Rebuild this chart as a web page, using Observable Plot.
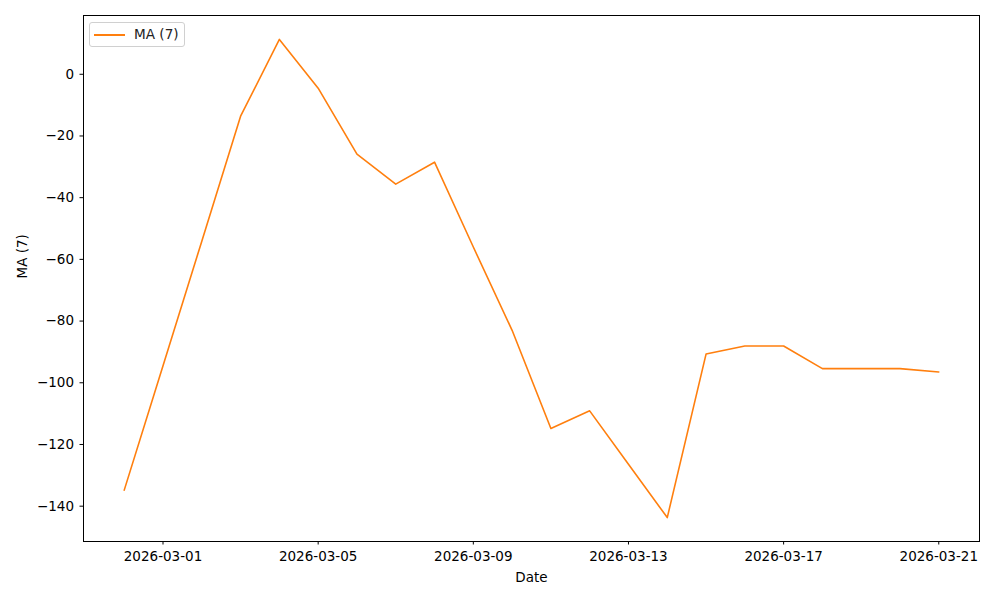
<!DOCTYPE html>
<html>
<head>
<meta charset="utf-8">
<script src="https://cdn.jsdelivr.net/npm/d3@7"></script>
<script src="https://cdn.jsdelivr.net/npm/@observablehq/plot@0.6"></script>
<style>
  html, body { margin: 0; padding: 0; background: #fff; }
  #wrap { position: relative; width: 1000px; height: 600px; font-family: "DejaVu Sans", sans-serif; }
  #legend { position: absolute; left: 89px; top: 22px; width: 96px; height: 25px; box-sizing: border-box;
    border: 1px solid #d0d0d0; border-radius: 3px; background: rgba(255,255,255,0.8); }
  #legend .sw { position: absolute; left: 4px; top: 10.5px; width: 31px; height: 2px; background: #ff7f0e; }
  #legend .lb { position: absolute; left: 44px; top: 3px; font-size: 13.6px; color: #222; line-height: 16px; }
</style>
</head>
<body>
<div id="wrap"><div id="legend"><div class="sw"></div><div class="lb">MA (7)</div></div></div>
<script>
const dates = ["2026-02-28","2026-03-01","2026-03-02","2026-03-03","2026-03-04","2026-03-05","2026-03-06","2026-03-07","2026-03-08","2026-03-09","2026-03-10","2026-03-11","2026-03-12","2026-03-13","2026-03-14","2026-03-15","2026-03-16","2026-03-17","2026-03-18","2026-03-19","2026-03-20","2026-03-21"];
const ma7 = [-134.8,-94.5,-54.1,-13.6,11.3,-4.5,-25.9,-35.6,-28.5,-56.0,-83.0,-114.8,-109.1,-126.4,-143.7,-90.7,-88.1,-88.1,-95.4,-95.4,-95.4,-96.5];
const xTickLabels = ["2026-03-01","2026-03-05","2026-03-09","2026-03-13","2026-03-17","2026-03-21"];
const yTicks = [-140,-120,-100,-80,-60,-40,-20,0];

const parse = d3.utcParse("%Y-%m-%d");
const data = dates.map((d, i) => ({date: parse(d), value: ma7[i]}));
const x0 = parse(dates[0]), x1 = parse(dates[dates.length - 1]);
const pad = (x1 - x0) * 0.05;
const ymin = d3.min(ma7), ymax = d3.max(ma7), ypad = (ymax - ymin) * 0.05;

const chart = Plot.plot({
  width: 1000,
  height: 600,
  marginLeft: 83,
  marginRight: 21,
  marginTop: 15,
  marginBottom: 59,
  style: {fontFamily: "DejaVu Sans, sans-serif", fontSize: "13.5px", color: "#000", background: "#fff"},
  x: {type: "utc", domain: [new Date(+x0 - pad), new Date(+x1 + pad)]},
  y: {domain: [ymin - ypad, ymax + ypad]},
  marks: [
    Plot.axisX({ticks: xTickLabels.map(parse), tickFormat: d3.utcFormat("%Y-%m-%d"), tickSize: 3.5, tickPadding: 6, label: null, fontSize: 13.5, stroke: "#000"}),
    Plot.axisY({ticks: yTicks, tickSize: 3.5, tickPadding: 6, label: null, fontSize: 13.5, stroke: "#000"}),
    Plot.line(data, {x: "date", y: "value", stroke: "#ff7f0e", strokeWidth: 1.6}),
    Plot.frame({stroke: "#000", strokeWidth: 1}),
    Plot.text(["Date"], {frameAnchor: "bottom", dy: 40, text: d => d, fontSize: 13.5, fill: "#000"}),
    Plot.text(["MA (7)"], {frameAnchor: "left", dx: -61, rotate: -90, text: d => d, fontSize: 13.5, fill: "#000"})
  ]
});
document.getElementById("wrap").prepend(chart);
chart.style.position = "absolute";
chart.style.left = "0";
chart.style.top = "0";
</script>
</body>
</html>
